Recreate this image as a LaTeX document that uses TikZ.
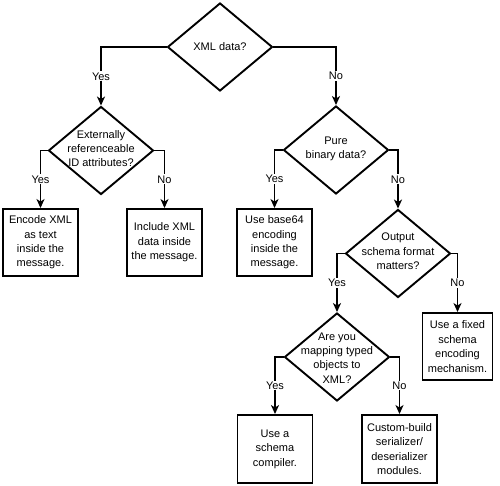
\documentclass[tikz,border=0pt]{standalone}
\usepackage{fontspec}
\setmainfont{Liberation Sans}
\usetikzlibrary{shapes.geometric,arrows.meta}
\begin{document}
\begin{tikzpicture}[x=1pt,y=-1pt,
  every node/.style={font=\fontsize{11}{14.4}\selectfont},
  dia/.style={draw,line width=1.9pt,diamond,inner sep=0pt,minimum width=105pt,minimum height=88pt},
  dtext/.style={align=center,inner sep=0pt},
  box/.style={draw,line width=1.9pt,rectangle,inner sep=0pt,minimum width=75pt,minimum height=67pt,align=center},
  lab/.style={fill=white,inner sep=1pt},
  conn/.style={line width=1.9pt,-{Stealth[length=9pt,width=8pt,inset=2.5pt]}}]
\useasboundingbox (0,0) rectangle (500,486);
% decisions
\node[dia] (d1) at (220,47) {};
\node[dtext] (t1) at (d1) {XML data?};
\node[dia] (d2) at (101,150.5) {};
\node[dtext] (t2) at (101,148.5) {Externally\\referenceable\\ID attributes?};
\node[dia] (d3) at (336,150) {};
\node[dtext] (t3) at (336,149) {Pure\\binary data?};
\node[dia] (d4) at (398,253.5) {};
\node[dtext] (t4) at (398,251.5) {Output\\schema format\\matters?};
\node[dia] (d5) at (337,357) {};
\node[dtext] (t5) at (337,358) {Are you\\mapping typed\\objects to\\XML?};
% outcomes
\node[box] (b1) at (40.5,242.5) {Encode XML\\as text\\inside the\\message.};
\node[box] (b2) at (164.5,242.5) {Include XML\\data inside\\the message.};
\node[box] (b3) at (274.5,242.5) {Use base64\\encoding\\inside the\\message.};
\node[box,minimum width=70pt] (b4) at (457.5,346.5) {Use a fixed\\schema\\encoding\\mechanism.};
\node[box,minimum height=68pt] (b5) at (275,449) {Use a\\schema\\compiler.};
\node[box,minimum height=68pt] (b6) at (399.5,449) {Custom-build\\serializer/\\deserializer\\modules.};
% connectors
\draw[conn] (d1.west) -| node[lab,pos=0.75] {Yes} (d2.north);
\draw[conn] (d1.east) -| node[lab,pos=0.75] {No} (d3.north);
\draw[conn] (d2.west) -| node[lab,pos=0.75] {Yes} (b1.north);
\draw[conn] (d2.east) -| node[lab,pos=0.75] {No} (b2.north);
\draw[conn] (d3.west) -| node[lab,pos=0.75] {Yes} (b3.north);
\draw[conn] (d3.east) -| node[lab,pos=0.75] {No} (d4.north);
\draw[conn] (d4.west) -| node[lab,pos=0.75] {Yes} (d5.north);
\draw[conn] (d4.east) -| node[lab,pos=0.75] {No} (b4.north);
\draw[conn] (d5.west) -| node[lab,pos=0.75] {Yes} (b5.north);
\draw[conn] (d5.east) -| node[lab,pos=0.75] {No} (b6.north);
\end{tikzpicture}
\end{document}
